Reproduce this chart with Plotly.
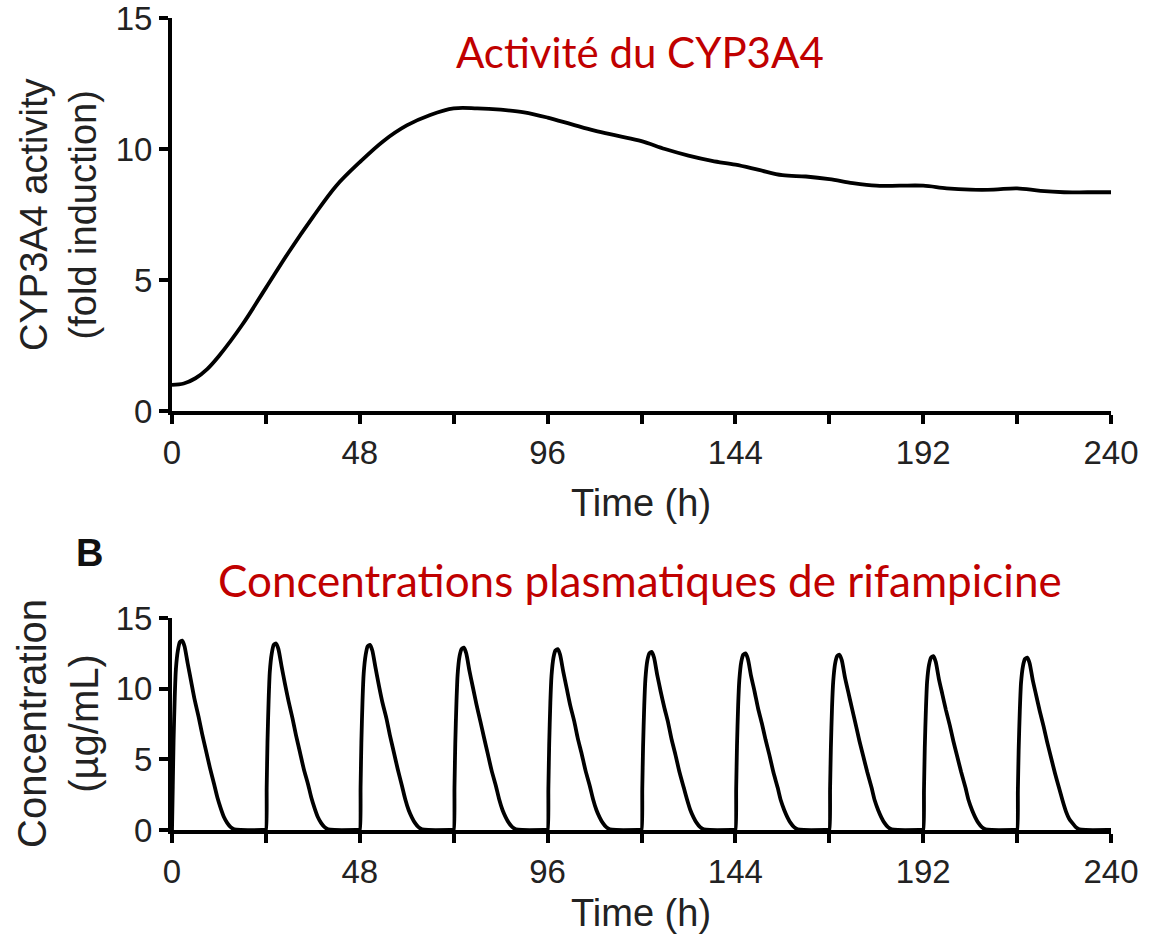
import plotly.graph_objects as go

# ---------------- data ----------------
# Top panel: CYP3A4 activity (fold induction) vs time (h)
cyp_time = [0, 3, 6, 9, 12, 18, 24, 30, 36, 42, 48, 54, 60, 66, 72, 78, 84, 90, 96,
            102, 108, 114, 120, 126, 132, 138, 144, 150, 156, 162, 168, 174, 180,
            186, 192, 198, 204, 210, 216, 222, 228, 234, 240]
cyp_fold = [1.0, 1.05, 1.25, 1.6, 2.1, 3.3, 4.7, 6.1, 7.4, 8.6, 9.5, 10.3, 10.9, 11.3, 11.55, 11.55, 11.5, 11.4, 11.2,
            10.95, 10.7, 10.5, 10.3, 10.0, 9.75, 9.55, 9.4, 9.2, 9.0, 8.95, 8.85, 8.7, 8.6,
            8.6, 8.6, 8.5, 8.45, 8.45, 8.5, 8.4, 8.35, 8.35, 8.35]

# Bottom panel: rifampicin plasma concentration (ug/mL), one dose every 24 h
dose_times = [0, 24, 48, 72, 96, 120, 144, 168, 192, 216]
sample_offsets = [0, 0.2, 0.4, 0.7, 1.0, 1.5, 2.0, 2.6, 3.2, 4.0, 4.9, 5.8, 6.8, 7.7, 8.7, 9.7,
                  10.8, 11.6, 12.5, 13.3, 14.1, 15.0, 15.9, 17.5, 23.7]
pulse_values = [
    [0, 3.1, 6.3, 9.4, 11.4, 12.7, 13.3, 13.4, 13.0, 11.8, 10.5, 9.2, 8.0, 6.8, 5.6, 4.4, 3.2, 2.3, 1.5, 0.9, 0.5, 0.2, 0.05, 0, 0],
    [0, 3.0, 6.2, 9.2, 11.2, 12.5, 13.1, 13.2, 12.8, 11.6, 10.3, 9.1, 7.9, 6.7, 5.5, 4.3, 3.2, 2.3, 1.5, 0.9, 0.5, 0.2, 0.05, 0, 0],
    [0, 3.0, 6.2, 9.2, 11.1, 12.4, 13.0, 13.1, 12.7, 11.5, 10.2, 9.0, 7.9, 6.7, 5.5, 4.3, 3.1, 2.2, 1.4, 0.9, 0.5, 0.2, 0.05, 0, 0],
    [0, 3.0, 6.1, 9.0, 11.0, 12.3, 12.8, 12.9, 12.5, 11.3, 10.1, 8.9, 7.7, 6.6, 5.4, 4.2, 3.1, 2.2, 1.4, 0.9, 0.5, 0.2, 0.05, 0, 0],
    [0, 2.9, 6.0, 9.0, 10.9, 12.2, 12.7, 12.8, 12.4, 11.2, 10.0, 8.8, 7.7, 6.5, 5.4, 4.2, 3.1, 2.2, 1.4, 0.9, 0.5, 0.2, 0.05, 0, 0],
    [0, 2.9, 5.9, 8.8, 10.7, 12.0, 12.5, 12.6, 12.2, 11.0, 9.8, 8.7, 7.6, 6.4, 5.3, 4.1, 3.0, 2.2, 1.4, 0.9, 0.5, 0.2, 0.05, 0, 0],
    [0, 2.9, 5.9, 8.8, 10.6, 11.9, 12.4, 12.5, 12.1, 10.9, 9.8, 8.6, 7.5, 6.4, 5.3, 4.1, 3.0, 2.1, 1.4, 0.9, 0.5, 0.2, 0.05, 0, 0],
    [0, 2.9, 5.8, 8.7, 10.5, 11.8, 12.3, 12.4, 12.0, 10.8, 9.7, 8.6, 7.4, 6.3, 5.2, 4.1, 3.0, 2.1, 1.4, 0.9, 0.5, 0.2, 0.05, 0, 0],
    [0, 2.8, 5.8, 8.6, 10.5, 11.7, 12.2, 12.3, 11.9, 10.7, 9.6, 8.5, 7.4, 6.3, 5.2, 4.1, 3.0, 2.1, 1.4, 0.9, 0.5, 0.2, 0.05, 0, 0],
    [0, 2.8, 5.7, 8.5, 10.4, 11.6, 12.1, 12.2, 11.8, 10.6, 9.5, 8.4, 7.3, 6.2, 5.1, 4.0, 2.9, 2.1, 1.3, 0.8, 0.5, 0.2, 0.05, 0, 0],
]
end_time = [240]
end_value = [0]

x_tick_vals = [0, 24, 48, 72, 96, 120, 144, 168, 192, 216, 240]
x_tick_text = ["0", "", "48", "", "96", "", "144", "", "192", "", "240"]
y_tick_vals = [0, 5, 10, 15]
y_tick_text = ["0", "5", "10", "15"]

title_top = "Activité du CYP3A4"
title_bottom = "Concentrations plasmatiques de rifampicine"
ytitle_top = "CYP3A4 activity<br>(fold induction)"
ytitle_bottom = "Concentration<br>(µg/mL)"
xtitle = "Time (h)"
panel_letter = "B"

# build concentration series
conc_time, conc_value = [], []
for d, vals in zip(dose_times, pulse_values):
    for o, v in zip(sample_offsets, vals):
        conc_time.append(d + o)
        conc_value.append(v)
conc_time += end_time
conc_value += end_value

# ---------------- figure ----------------
W, H = 1151, 937

def fx(px):
    return px / W

def fy(py):
    return 1 - py / H

fig = go.Figure()
fig.add_trace(go.Scatter(x=cyp_time, y=cyp_fold, mode="lines",
                         line=dict(color="black", width=3.8, shape="spline", smoothing=1.0),
                         xaxis="x", yaxis="y", hoverinfo="skip", cliponaxis=False))
fig.add_trace(go.Scatter(x=conc_time, y=conc_value, mode="lines",
                         line=dict(color="black", width=3.8, shape="spline", smoothing=0.6),
                         xaxis="x2", yaxis="y2", hoverinfo="skip", cliponaxis=False))

tickfont = dict(family="Liberation Sans, Arial, sans-serif", size=33, color="#222222")
axis_common = dict(showline=True, linecolor="black", linewidth=4, ticks="outside",
                   ticklen=9, tickwidth=4, tickcolor="black", showgrid=False,
                   zeroline=False, tickfont=tickfont, fixedrange=True, automargin=False,
                   ticklabeloverflow="allow")

x_dom = [fx(172), fx(1111)]
fig.update_layout(
    width=W, height=H,
    margin=dict(l=0, r=0, t=0, b=0, pad=0, autoexpand=False),
    paper_bgcolor="white", plot_bgcolor="white",
    showlegend=False,
    xaxis=dict(domain=x_dom, range=[0, 240], tickmode="array", tickvals=x_tick_vals,
               ticktext=x_tick_text, anchor="y", **axis_common),
    yaxis=dict(domain=[fy(411), fy(18)], range=[0, 15], tickmode="array",
               tickvals=y_tick_vals, ticktext=y_tick_text, anchor="x", **axis_common),
    xaxis2=dict(domain=x_dom, range=[0, 240], tickmode="array", tickvals=x_tick_vals,
                ticktext=x_tick_text, anchor="y2", **axis_common),
    yaxis2=dict(domain=[fy(830), fy(618)], range=[0, 15], tickmode="array",
                tickvals=y_tick_vals, ticktext=y_tick_text, anchor="x2", **axis_common),
)

axis_title_font = dict(family="Liberation Sans, Arial, sans-serif", size=38, color="#222222")
red_font = dict(family="Lato, sans-serif", color="#C00000")

annotations = [
    dict(text=title_top, x=fx(640), y=fy(52), xref="paper", yref="paper",
         showarrow=False, xanchor="center", yanchor="middle",
         font=dict(size=42, **red_font)),
    dict(text=title_bottom, x=fx(640), y=fy(580), xref="paper", yref="paper",
         showarrow=False, xanchor="center", yanchor="middle",
         font=dict(size=44, **red_font)),
    dict(text=ytitle_top, x=fx(58), y=fy(215), xref="paper", yref="paper",
         showarrow=False, xanchor="center", yanchor="middle", textangle=-90,
         font=axis_title_font),
    dict(text=ytitle_bottom, x=fx(58), y=fy(724), xref="paper", yref="paper",
         showarrow=False, xanchor="center", yanchor="middle", textangle=-90,
         font=dict(family="Liberation Sans, Arial, sans-serif", size=40, color="#222222")),
    dict(text=xtitle, x=fx(641), y=fy(503), xref="paper", yref="paper",
         showarrow=False, xanchor="center", yanchor="middle", font=axis_title_font),
    dict(text=xtitle, x=fx(641), y=fy(913), xref="paper", yref="paper",
         showarrow=False, xanchor="center", yanchor="middle", font=axis_title_font),
    dict(text="<b>" + panel_letter + "</b>", x=fx(89), y=fy(553), xref="paper", yref="paper",
         showarrow=False, xanchor="center", yanchor="middle",
         font=dict(family="Liberation Sans, Arial, sans-serif", size=38, color="#111111")),
]
fig.update_layout(annotations=annotations)

fig.write_html("out.html")
